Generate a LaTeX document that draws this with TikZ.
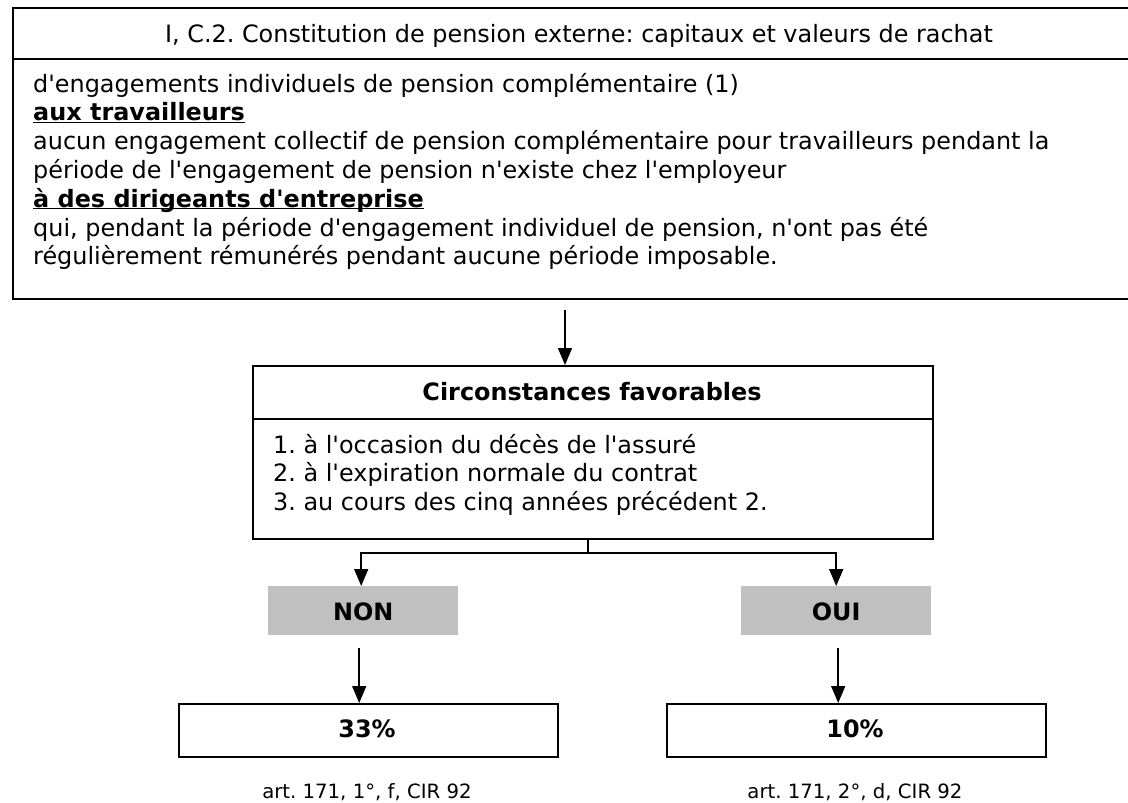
\documentclass[tikz,border=0pt]{standalone}
\usepackage{fontspec}
\setmainfont{DejaVu Sans}[Ligatures=TeXOff]
\usetikzlibrary{arrows.meta}
\newcommand{\ulx}[1]{\underline{\smash{#1}}}
\definecolor{graybox}{RGB}{192,192,192}
\frenchspacing
\begin{document}
\begin{tikzpicture}[x=1pt,y=-1pt,
  boxline/.style={draw=black,line width=1.8pt,inner sep=0pt,anchor=north west},
  grayfill/.style={fill=graybox,inner sep=0pt,anchor=north west},
  arr/.style={line width=1.5pt,-{Triangle[length=17pt,width=14pt]}},
  conn/.style={line width=1.5pt},
  txt/.style={inner sep=0pt,font=\fontsize{23.9}{28.8}\selectfont\frenchspacing},
  btxt/.style={inner sep=0pt,font=\fontsize{23.9}{28.8}\selectfont\bfseries},
  ctxt/.style={inner sep=0pt,font=\fontsize{19.7}{24}\selectfont\frenchspacing}]
\useasboundingbox[fill=white] (0,0) rectangle (1128,803);

% top box
\node[boxline,minimum width=1125pt,minimum height=51pt] (title) at (12,7) {};
\node[boxline,minimum width=1125pt,minimum height=240pt] (body) at (12,58) {};
\node[txt,anchor=base] (titletext) at (579,42) {I, C.2. Constitution de pension externe: capitaux et valeurs de rachat};
\node[txt,anchor=base west] (l1) at (33,92) {d'engagements individuels de pension complémentaire (1)};
\node[txt,anchor=base west] (l2) at (33,120.8) {\textbf{\ulx{aux travailleurs}}};
\node[txt,anchor=base west] (l3) at (33,149.6) {aucun engagement collectif de pension complémentaire pour travailleurs pendant la};
\node[txt,anchor=base west] (l4) at (33,178.4) {période de l'engagement de pension n'existe chez l'employeur};
\node[txt,anchor=base west] (l5) at (33,207.2) {\textbf{\ulx{à des dirigeants d'entreprise}}};
\node[txt,anchor=base west] (l6) at (33,236) {qui, pendant la période d'engagement individuel de pension, n'ont pas été};
\node[txt,anchor=base west] (l7) at (33,264.8) {régulièrement rémunérés pendant aucune période imposable.};

% circonstances box
\node[boxline,minimum width=680pt,minimum height=53pt] (circhead) at (252,365) {};
\node[boxline,minimum width=680pt,minimum height=120pt] (circbody) at (252,418) {};
\node[btxt,anchor=base] (circtitle) at (592,400) {Circonstances favorables};
\node[txt,anchor=base west] (c1) at (273,453) {1. à l'occasion du décès de l'assuré};
\node[txt,anchor=base west] (c2) at (273,481.5) {2. à l'expiration normale du contrat};
\node[txt,anchor=base west] (c3) at (273,510) {3. au cours des cinq années précédent 2.};

% NON / OUI
\node[grayfill,minimum width=190pt,minimum height=49pt] (non) at (268,586) {};
\node[grayfill,minimum width=190pt,minimum height=49pt] (oui) at (741,586) {};
\node[btxt,anchor=base] (nontext) at (non.center |- 0,620) {NON};
\node[btxt,anchor=base] (ouitext) at (oui.center |- 0,620) {OUI};

% result boxes
\node[boxline,minimum width=379pt,minimum height=53pt] (r33) at (178,703) {};
\node[boxline,minimum width=379pt,minimum height=53pt] (r10) at (666,703) {};
\node[btxt,anchor=base] (t33) at (367,737) {33\%};
\node[btxt,anchor=base] (t10) at (855,737) {10\%};
\node[ctxt,anchor=base] (cap33) at (367,798) {art. 171, 1°, f, CIR 92};
\node[ctxt,anchor=base] (cap10) at (855,798) {art. 171, 2°, d, CIR 92};

% connectors
\coordinate (topstart) at (565,310);
\draw[arr] (topstart) -- (topstart |- circhead.north);
\coordinate (split) at (588,553);
\draw[conn] (split |- circbody.south) -- (split);
\draw[arr] (split) -| ([xshift=-2pt]non.north);
\draw[arr] (split) -| (oui.north);
\draw[arr] ([xshift=-4pt,yshift=-13pt]non.south) -- ([xshift=-4pt]non.south |- r33.north);
\draw[arr] ([xshift=2pt,yshift=-13pt]oui.south) -- ([xshift=2pt]oui.south |- r10.north);
\end{tikzpicture}
\end{document}
